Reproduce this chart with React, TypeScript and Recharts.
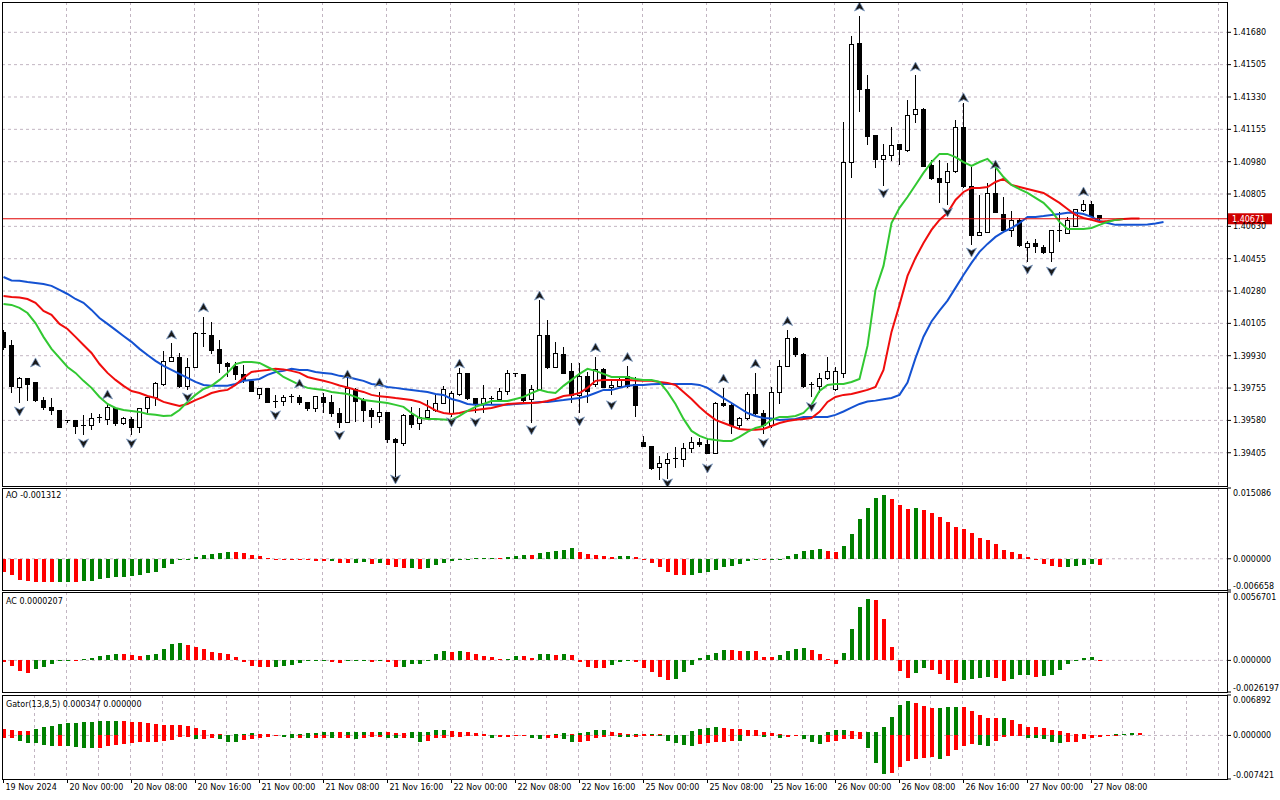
import React from 'react';
import { ComposedChart, Bar, Line, Scatter, XAxis, YAxis, CartesianGrid, ReferenceLine } from 'recharts';

// ---------- DATA ----------
const opens = [
  1.40053, 1.39983, 1.39759, 1.39804, 1.39783, 1.39690, 1.39652, 1.39631, 1.39577, 1.39577,
  1.39555, 1.39551, 1.39591, 1.39586, 1.39647, 1.39562, 1.39586, 1.39544, 1.39642, 1.39705,
  1.39775, 1.39901, 1.39922, 1.39766, 1.39867, 1.40044, 1.40042, 1.39965, 1.39889, 1.39874,
  1.39826, 1.39790, 1.39721, 1.39750, 1.39680, 1.39683, 1.39708, 1.39705, 1.39678, 1.39643,
  1.39705, 1.39678, 1.39618, 1.39568, 1.39749, 1.39690, 1.39636, 1.39600, 1.39624, 1.39478,
  1.39456, 1.39609, 1.39561, 1.39595, 1.39636, 1.39673, 1.39618, 1.39721, 1.39835, 1.39700,
  1.39669, 1.39700, 1.39694, 1.39739, 1.39832, 1.39830, 1.39694, 1.39749, 1.40037, 1.39867,
  1.39935, 1.39843, 1.39717, 1.39817, 1.39772, 1.39857, 1.39759, 1.39766, 1.39815, 1.39772,
  1.39462, 1.39441, 1.39324, 1.39348, 1.39369, 1.39369, 1.39429, 1.39459, 1.39451, 1.39402,
  1.39672, 1.39663, 1.39550, 1.39591, 1.39721, 1.39618, 1.39550, 1.39730, 1.39871, 1.40024,
  1.39934, 1.39774, 1.39766, 1.39808, 1.39745, 1.39834, 1.40977, 1.41617, 1.41368, 1.41124,
  1.40993, 1.41016, 1.41075, 1.41040, 1.41233, 1.41265, 1.40957, 1.40890, 1.40866, 1.40926,
  1.41166, 1.40843, 1.40582, 1.40598, 1.40806, 1.40695, 1.40610, 1.40661, 1.40517, 1.40538,
  1.40517, 1.40488, 1.40605, 1.40593, 1.40628, 1.40715, 1.40750, 1.40688,
];
const highs = [
  1.40069, 1.40015, 1.39815, 1.39812, 1.39788, 1.39708, 1.39700, 1.39636, 1.39582, 1.39582,
  1.39609, 1.39618, 1.39614, 1.39673, 1.39652, 1.39597, 1.39600, 1.39645, 1.39708, 1.39790,
  1.39957, 1.39997, 1.39944, 1.39916, 1.40060, 1.40141, 1.40114, 1.40015, 1.39898, 1.39898,
  1.39880, 1.39794, 1.39752, 1.39753, 1.39717, 1.39717, 1.39721, 1.39717, 1.39680, 1.39708,
  1.39726, 1.39717, 1.39645, 1.39808, 1.39754, 1.39700, 1.39649, 1.39735, 1.39627, 1.39483,
  1.39612, 1.39654, 1.39649, 1.39690, 1.39717, 1.39766, 1.39737, 1.39862, 1.39837, 1.39702,
  1.39772, 1.39712, 1.39754, 1.39854, 1.39839, 1.39832, 1.39771, 1.40232, 1.40125, 1.40006,
  1.39979, 1.39889, 1.39889, 1.39844, 1.39925, 1.39862, 1.39799, 1.39808, 1.39873, 1.39817,
  1.39497, 1.39443, 1.39387, 1.39402, 1.39438, 1.39456, 1.39488, 1.39483, 1.39478, 1.39681,
  1.39754, 1.39672, 1.39600, 1.39735, 1.39835, 1.39636, 1.39762, 1.39907, 1.40069, 1.40033,
  1.39943, 1.39790, 1.39839, 1.39922, 1.39867, 1.41196, 1.41660, 1.41768, 1.41449, 1.41124,
  1.41076, 1.41170, 1.41076, 1.41314, 1.41449, 1.41271, 1.40989, 1.40989, 1.40971, 1.41205,
  1.41296, 1.40953, 1.40800, 1.40864, 1.40945, 1.40791, 1.40715, 1.40674, 1.40552, 1.40560,
  1.40529, 1.40610, 1.40710, 1.40683, 1.40724, 1.40773, 1.40767, 1.40691,
];
const lows = [
  1.39961, 1.39728, 1.39673, 1.39687, 1.39680, 1.39636, 1.39609, 1.39539, 1.39564, 1.39506,
  1.39501, 1.39528, 1.39564, 1.39553, 1.39550, 1.39555, 1.39501, 1.39510, 1.39618, 1.39658,
  1.39766, 1.39898, 1.39754, 1.39745, 1.39862, 1.39979, 1.39939, 1.39835, 1.39817, 1.39799,
  1.39781, 1.39737, 1.39694, 1.39674, 1.39645, 1.39658, 1.39673, 1.39663, 1.39631, 1.39627,
  1.39622, 1.39600, 1.39537, 1.39564, 1.39573, 1.39573, 1.39537, 1.39568, 1.39459, 1.39275,
  1.39443, 1.39537, 1.39528, 1.39582, 1.39627, 1.39669, 1.39597, 1.39713, 1.39690, 1.39622,
  1.39622, 1.39663, 1.39687, 1.39717, 1.39817, 1.39681, 1.39564, 1.39745, 1.39856, 1.39862,
  1.39832, 1.39673, 1.39618, 1.39673, 1.39763, 1.39754, 1.39717, 1.39754, 1.39754, 1.39597,
  1.39436, 1.39312, 1.39257, 1.39261, 1.39321, 1.39329, 1.39402, 1.39438, 1.39398, 1.39398,
  1.39654, 1.39505, 1.39528, 1.39582, 1.39609, 1.39506, 1.39537, 1.39667, 1.39867, 1.39922,
  1.39754, 1.39708, 1.39730, 1.39799, 1.39741, 1.39809, 1.40890, 1.41250, 1.41070, 1.40944,
  1.40846, 1.40984, 1.40964, 1.41030, 1.41191, 1.40951, 1.40881, 1.40758, 1.40745, 1.40920,
  1.40837, 1.40529, 1.40578, 1.40593, 1.40701, 1.40607, 1.40575, 1.40520, 1.40436, 1.40488,
  1.40481, 1.40436, 1.40548, 1.40587, 1.40625, 1.40710, 1.40683, 1.40667,
];
const closes = [
  1.39977, 1.39761, 1.39806, 1.39773, 1.39687, 1.39649, 1.39632, 1.39541, 1.39571, 1.39546,
  1.39550, 1.39591, 1.39594, 1.39649, 1.39561, 1.39588, 1.39543, 1.39642, 1.39705, 1.39781,
  1.39900, 1.39922, 1.39766, 1.39867, 1.40048, 1.40048, 1.39957, 1.39889, 1.39871, 1.39826,
  1.39799, 1.39739, 1.39750, 1.39676, 1.39678, 1.39705, 1.39709, 1.39676, 1.39642, 1.39707,
  1.39676, 1.39618, 1.39568, 1.39754, 1.39681, 1.39636, 1.39600, 1.39624, 1.39474, 1.39459,
  1.39609, 1.39559, 1.39597, 1.39636, 1.39673, 1.39745, 1.39726, 1.39835, 1.39696, 1.39669,
  1.39700, 1.39698, 1.39739, 1.39835, 1.39830, 1.39690, 1.39749, 1.40037, 1.39867, 1.39943,
  1.39835, 1.39717, 1.39817, 1.39735, 1.39857, 1.39759, 1.39770, 1.39799, 1.39766, 1.39663,
  1.39438, 1.39321, 1.39348, 1.39369, 1.39372, 1.39429, 1.39459, 1.39447, 1.39402, 1.39672,
  1.39663, 1.39550, 1.39591, 1.39721, 1.39615, 1.39550, 1.39732, 1.39871, 1.40024, 1.39934,
  1.39763, 1.39772, 1.39808, 1.39843, 1.39843, 1.40977, 1.41615, 1.41368, 1.41116, 1.40993,
  1.41016, 1.41067, 1.41048, 1.41229, 1.41264, 1.40953, 1.40890, 1.40866, 1.40926, 1.41166,
  1.40846, 1.40578, 1.40598, 1.40806, 1.40706, 1.40610, 1.40664, 1.40525, 1.40538, 1.40520,
  1.40488, 1.40605, 1.40602, 1.40664, 1.40719, 1.40750, 1.40686, 1.40671,
];

// Alligator (shifted forward, so they run past the last bar)
const jaw = [
  1.40356, 1.40337, 1.40335, 1.40329, 1.40324, 1.40318, 1.40308, 1.40286, 1.40264, 1.40237,
  1.40216, 1.40178, 1.40134, 1.40102, 1.40070, 1.40037, 1.40005, 1.39967, 1.39934, 1.39902,
  1.39875, 1.39853, 1.39832, 1.39810, 1.39788, 1.39772, 1.39767, 1.39767, 1.39767, 1.39777,
  1.39794, 1.39799, 1.39804, 1.39826, 1.39842, 1.39848, 1.39859, 1.39853, 1.39853, 1.39842,
  1.39837, 1.39832, 1.39821, 1.39815, 1.39804, 1.39794, 1.39777, 1.39772, 1.39761, 1.39756,
  1.39750, 1.39745, 1.39739, 1.39734, 1.39723, 1.39718, 1.39696, 1.39685, 1.39669, 1.39664,
  1.39664, 1.39664, 1.39664, 1.39664, 1.39669, 1.39672, 1.39674, 1.39680, 1.39680, 1.39685,
  1.39690, 1.39696, 1.39701, 1.39712, 1.39728, 1.39745, 1.39745, 1.39756, 1.39767, 1.39772,
  1.39772, 1.39775, 1.39777, 1.39777, 1.39777, 1.39777, 1.39777, 1.39772, 1.39756, 1.39728,
  1.39701, 1.39674, 1.39647, 1.39620, 1.39604, 1.39593, 1.39590, 1.39582, 1.39585, 1.39588,
  1.39599, 1.39599, 1.39599, 1.39599, 1.39610, 1.39628, 1.39649, 1.39669, 1.39682, 1.39687,
  1.39695, 1.39701, 1.39718, 1.39785, 1.39917, 1.40033, 1.40115, 1.40174, 1.40228, 1.40297,
  1.40367, 1.40432, 1.40492, 1.40535, 1.40573, 1.40600, 1.40621, 1.40648, 1.40681, 1.40681,
  1.40686, 1.40692, 1.40697, 1.40703, 1.40703, 1.40697, 1.40681, 1.40659, 1.40648, 1.40638,
  1.40638, 1.40638, 1.40638, 1.40640, 1.40646, 1.40654,
];
const teeth = [
  1.40253, 1.40248, 1.40245, 1.40237, 1.40216, 1.40172, 1.40151, 1.40102, 1.40075, 1.40032,
  1.39988, 1.39945, 1.39885, 1.39837, 1.39799, 1.39767, 1.39739, 1.39728, 1.39712, 1.39701,
  1.39680, 1.39669, 1.39658, 1.39669, 1.39690, 1.39707, 1.39728, 1.39739, 1.39745, 1.39772,
  1.39810, 1.39842, 1.39848, 1.39853, 1.39859, 1.39856, 1.39848, 1.39837, 1.39815, 1.39804,
  1.39794, 1.39783, 1.39769, 1.39758, 1.39745, 1.39734, 1.39718, 1.39710, 1.39707, 1.39701,
  1.39696, 1.39690, 1.39680, 1.39658, 1.39634, 1.39620, 1.39615, 1.39620, 1.39631, 1.39636,
  1.39642, 1.39647, 1.39658, 1.39669, 1.39672, 1.39674, 1.39674, 1.39677, 1.39685, 1.39696,
  1.39712, 1.39718, 1.39728, 1.39756, 1.39794, 1.39799, 1.39799, 1.39799, 1.39799, 1.39796,
  1.39794, 1.39794, 1.39788, 1.39783, 1.39772, 1.39734, 1.39696, 1.39653, 1.39615, 1.39583,
  1.39566, 1.39550, 1.39534, 1.39529, 1.39529, 1.39534, 1.39550, 1.39566, 1.39577, 1.39583,
  1.39588, 1.39593, 1.39626, 1.39680, 1.39707, 1.39718, 1.39723, 1.39734, 1.39745, 1.39761,
  1.39853, 1.40059, 1.40205, 1.40362, 1.40459, 1.40540, 1.40611, 1.40665, 1.40703, 1.40773,
  1.40816, 1.40838, 1.40838, 1.40843, 1.40870, 1.40887, 1.40854, 1.40843, 1.40832, 1.40821,
  1.40811, 1.40784, 1.40757, 1.40724, 1.40692, 1.40675, 1.40665, 1.40654, 1.40659, 1.40665,
  1.40670, 1.40673, 1.40673,
];
const lips = [
  1.40210, 1.40205, 1.40189, 1.40161, 1.40107, 1.40032, 1.39967, 1.39918, 1.39869, 1.39837,
  1.39794, 1.39756, 1.39707, 1.39669, 1.39647, 1.39636, 1.39631, 1.39626, 1.39615, 1.39610,
  1.39604, 1.39607, 1.39636, 1.39680, 1.39718, 1.39750, 1.39767, 1.39799, 1.39837, 1.39885,
  1.39896, 1.39896, 1.39891, 1.39869, 1.39848, 1.39815, 1.39794, 1.39772, 1.39756, 1.39750,
  1.39745, 1.39734, 1.39728, 1.39723, 1.39707, 1.39690, 1.39685, 1.39680, 1.39674, 1.39664,
  1.39653, 1.39620, 1.39593, 1.39588, 1.39588, 1.39585, 1.39582, 1.39604, 1.39631, 1.39653,
  1.39669, 1.39685, 1.39685, 1.39685, 1.39696, 1.39707, 1.39728, 1.39745, 1.39734, 1.39728,
  1.39767, 1.39799, 1.39832, 1.39859, 1.39848, 1.39832, 1.39815, 1.39815, 1.39815, 1.39804,
  1.39799, 1.39799, 1.39788, 1.39734, 1.39669, 1.39588, 1.39523, 1.39496, 1.39480, 1.39474,
  1.39469, 1.39469, 1.39491, 1.39518, 1.39539, 1.39550, 1.39583, 1.39599, 1.39599, 1.39604,
  1.39620, 1.39664, 1.39739, 1.39772, 1.39777, 1.39777, 1.39788, 1.39804, 1.39983, 1.40286,
  1.40416, 1.40648, 1.40730, 1.40789, 1.40854, 1.40919, 1.40978, 1.41022, 1.41022, 1.41005,
  1.40978, 1.40957, 1.40978, 1.40995, 1.40951, 1.40897, 1.40854, 1.40832, 1.40811, 1.40784,
  1.40757, 1.40713, 1.40654, 1.40616, 1.40616, 1.40616, 1.40621, 1.40638, 1.40654, 1.40665,
  1.40670,
];

// Fractals (arrow positions)
const fractalUpIdx = [4, 13, 21, 25, 37, 43, 47, 57, 67, 74, 78, 90, 94, 98, 107, 114, 120, 124, 135];
const fractalUpVal = [
  1.39891, 1.39718, 1.40042, 1.40189, 1.39777, 1.39826, 1.39783, 1.39885, 1.40253, 1.39972,
  1.39921, 1.39804, 1.39885, 1.40115, 1.41817, 1.41492, 1.41325, 1.40962, 1.40816,
];
const fractalDownIdx = [2, 10, 16, 23, 34, 42, 49, 56, 59, 66, 72, 76, 83, 88, 95, 101, 110, 118, 121, 128, 131];
const fractalDownVal = [
  1.39631, 1.39458, 1.39458, 1.39707, 1.39610, 1.39501, 1.39263, 1.39572, 1.39572, 1.39529,
  1.39577, 1.39664, 1.39242, 1.39323, 1.39460, 1.39655, 1.40811, 1.40708, 1.40491, 1.40399,
  1.40388,
];

// Awesome Oscillator
const aoValues = [
  -0.00285, -0.00343, -0.00453, -0.00482, -0.00489, -0.00500, -0.00504, -0.00502, -0.00500, -0.00505,
  -0.00482, -0.00480, -0.00438, -0.00409, -0.00394, -0.00380, -0.00358, -0.00350, -0.00307, -0.00285,
  -0.00197, -0.00102, -0.00029, -0.00007, 0.00044, 0.00088, 0.00109, 0.00131, 0.00153, 0.00150,
  0.00131, 0.00088, 0.00066, 0.00022, 0.00005, 0.00003, -0.00022, -0.00029, -0.00036, -0.00044,
  -0.00051, -0.00048, -0.00080, -0.00085, -0.00080, -0.00078, -0.00102, -0.00100, -0.00124, -0.00175,
  -0.00197, -0.00195, -0.00212, -0.00190, -0.00131, -0.00080, -0.00058, -0.00007, 0.00005, 0.00022,
  0.00024, 0.00026, 0.00022, 0.00044, 0.00066, 0.00088, 0.00085, 0.00131, 0.00153, 0.00175,
  0.00197, 0.00219, 0.00153, 0.00109, 0.00088, 0.00066, 0.00044, 0.00066, 0.00068, 0.00044,
  -0.00007, -0.00080, -0.00168, -0.00285, -0.00343, -0.00345, -0.00340, -0.00299, -0.00285, -0.00234,
  -0.00168, -0.00146, -0.00102, -0.00058, -0.00010, -0.00030, -0.00025, 0.00005, 0.00066, 0.00109,
  0.00175, 0.00197, 0.00199, 0.00175, 0.00153, 0.00263, 0.00526, 0.00839, 0.01080, 0.01290,
  0.01360, 0.01270, 0.01140, 0.01070, 0.01075, 0.01050, 0.00978, 0.00891, 0.00788, 0.00672,
  0.00628, 0.00540, 0.00453, 0.00409, 0.00321, 0.00197, 0.00153, 0.00109, 0.00044, -0.00022,
  -0.00102, -0.00146, -0.00175, -0.00170, -0.00146, -0.00124, -0.00120, -0.001312,
];
// Accelerator Oscillator
const acValues = [
  -0.00010, -0.00048, -0.00087, -0.00104, -0.00070, -0.00053, -0.00028, 0.00002, 0.00003, 0.00002,
  0.00014, 0.00020, 0.00039, 0.00045, 0.00053, 0.00052, 0.00045, 0.00037, 0.00045, 0.00053,
  0.00096, 0.00138, 0.00146, 0.00129, 0.00112, 0.00096, 0.00070, 0.00062, 0.00053, 0.00028,
  -0.00011, -0.00048, -0.00056, -0.00058, -0.00056, -0.00048, -0.00039, -0.00020, -0.00006, -0.00003,
  -0.00001, -0.00014, -0.00020, -0.00008, -0.00003, -0.00002, -0.00011, -0.00004, -0.00014, -0.00056,
  -0.00054, -0.00030, -0.00028, 0.00002, 0.00053, 0.00079, 0.00070, 0.00079, 0.00070, 0.00053,
  0.00037, 0.00028, 0.00011, 0.00012, 0.00037, 0.00035, 0.00020, 0.00053, 0.00054, 0.00045,
  0.00053, 0.00045, -0.00011, -0.00056, -0.00062, -0.00064, -0.00037, -0.00011, -0.00002, -0.00011,
  -0.00062, -0.00096, -0.00138, -0.00163, -0.00155, -0.00096, -0.00037, 0.00020, 0.00045, 0.00062,
  0.00087, 0.00086, 0.00079, 0.00080, 0.00078, 0.00028, 0.00027, 0.00045, 0.00079, 0.00096,
  0.00104, 0.00087, 0.00053, 0.00011, -0.00028, 0.00062, 0.00264, 0.00441, 0.00508, 0.00500,
  0.00340, 0.00112, -0.00087, -0.00146, -0.00104, -0.00065, -0.00081, -0.00115, -0.00163, -0.00188,
  -0.00163, -0.00155, -0.00146, -0.00138, -0.00146, -0.00171, -0.00155, -0.00121, -0.00118, -0.00138,
  -0.00129, -0.00121, -0.00079, -0.00028, -0.00003, 0.00020, 0.00028, 0.0000207,
];
// Gator oscillator (upper = |jaw-teeth|, lower = -|teeth-lips|)
const gatorUpper = [
  0.00112, 0.00100, 0.00082, 0.00080, 0.00106, 0.00147, 0.00159, 0.00194, 0.00212, 0.00214,
  0.00230, 0.00232, 0.00247, 0.00249, 0.00250, 0.00248, 0.00230, 0.00228, 0.00212, 0.00194,
  0.00177, 0.00175, 0.00173, 0.00159, 0.00124, 0.00088, 0.00029, 0.00018, 0.00016, 0.00022,
  0.00024, 0.00035, 0.00033, 0.00018, 0.00003, 0.00012, 0.00018, 0.00024, 0.00035, 0.00037,
  0.00053, 0.00055, 0.00053, 0.00055, 0.00056, 0.00057, 0.00055, 0.00056, 0.00054, 0.00041,
  0.00035, 0.00053, 0.00055, 0.00056, 0.00088, 0.00090, 0.00071, 0.00053, 0.00051, 0.00035,
  0.00018, 0.00010, 0.00008, 0.00006, 0.00003, 0.00002, 0.00004, 0.00006, 0.00008, 0.00018,
  0.00035, 0.00018, 0.00035, 0.00053, 0.00088, 0.00090, 0.00053, 0.00035, 0.00018, 0.00020,
  0.00020, 0.00022, 0.00020, 0.00010, 0.00005, 0.00004, 0.00071, 0.00106, 0.00124, 0.00141,
  0.00124, 0.00106, 0.00104, 0.00088, 0.00086, 0.00053, 0.00035, 0.00018, 0.00016, 0.00005,
  0.00004, 0.00003, 0.00002, 0.00053, 0.00088, 0.00090, 0.00071, 0.00053, 0.00055, 0.00057,
  0.00141, 0.00318, 0.00512, 0.00583, 0.00548, 0.00495, 0.00460, 0.00470, 0.00477, 0.00485,
  0.00477, 0.00424, 0.00353, 0.00300, 0.00295, 0.00297, 0.00265, 0.00194, 0.00141, 0.00139,
  0.00124, 0.00088, 0.00071, 0.00035, 0.00020, 0.00018, 0.00005, 0.00003, 0.00002, 0.00018,
  0.00019, 0.00036, 0.000347,
];
const gatorLower = [
  -0.00050, -0.00047, -0.00088, -0.00124, -0.00135, -0.00171, -0.00183, -0.00180, -0.00185, -0.00194,
  -0.00206, -0.00208, -0.00206, -0.00183, -0.00165, -0.00153, -0.00124, -0.00118, -0.00106, -0.00104,
  -0.00094, -0.00077, -0.00029, -0.00027, -0.00065, -0.00062, -0.00047, -0.00065, -0.00118, -0.00120,
  -0.00082, -0.00059, -0.00047, -0.00029, -0.00003, -0.00018, -0.00041, -0.00040, -0.00041, -0.00039,
  -0.00038, -0.00047, -0.00045, -0.00043, -0.00059, -0.00047, -0.00030, -0.00028, -0.00047, -0.00048,
  -0.00047, -0.00048, -0.00106, -0.00088, -0.00047, -0.00045, -0.00029, -0.00018, -0.00016, -0.00014,
  -0.00012, -0.00047, -0.00029, -0.00027, -0.00003, -0.00002, -0.00047, -0.00065, -0.00047, -0.00045,
  -0.00065, -0.00118, -0.00106, -0.00088, -0.00047, -0.00018, -0.00016, -0.00029, -0.00031, -0.00018,
  -0.00005, -0.00004, -0.00010, -0.00088, -0.00135, -0.00171, -0.00173, -0.00153, -0.00135, -0.00118,
  -0.00106, -0.00088, -0.00090, -0.00005, -0.00004, -0.00018, -0.00016, -0.00047, -0.00029, -0.00005,
  -0.00065, -0.00118, -0.00153, -0.00118, -0.00088, -0.00065, -0.00063, -0.00062, -0.00206, -0.00477,
  -0.00654, -0.00636, -0.00530, -0.00442, -0.00406, -0.00389, -0.00371, -0.00406, -0.00353, -0.00247,
  -0.00177, -0.00141, -0.00159, -0.00177, -0.00088, -0.00018, -0.00006, -0.00005, -0.00035, -0.00047,
  -0.00065, -0.00106, -0.00124, -0.00106, -0.00104, -0.00065, -0.00041, -0.00018, -0.00005, -0.00003,
];

const timeLabels = [
  '19 Nov 2024', '20 Nov 00:00', '20 Nov 08:00', '20 Nov 16:00', '21 Nov 00:00', '21 Nov 08:00',
  '21 Nov 16:00', '22 Nov 00:00', '22 Nov 08:00', '22 Nov 16:00', '25 Nov 00:00', '25 Nov 08:00',
  '25 Nov 16:00', '26 Nov 00:00', '26 Nov 08:00', '26 Nov 16:00', '27 Nov 00:00', '27 Nov 08:00',
];
const timeLabelIdx = [0, 8, 16, 24, 32, 40, 48, 56, 64, 72, 80, 88, 96, 104, 112, 120, 128, 136];

const priceTicks = [
  1.39405, 1.39580, 1.39755, 1.39930, 1.40105, 1.40280, 1.40455,
  1.40630, 1.40805, 1.40980, 1.41155, 1.41330, 1.41505, 1.41680,
];
const priceDomain: [number, number] = [1.39225, 1.41844];
const lastPrice = 1.40671;

const aoTicks = [0.015086, 0, -0.006658];
const aoTickLabels = ['0.015086', '0.000000', '-0.006658'];
const acTicks = [0.0056701, 0, -0.0026197];
const acTickLabels = ['0.0056701', '0.000000', '-0.0026197'];
const gatorTicks = [0.006892, 0, -0.007421];
const gatorTickLabels = ['0.006892', '0.000000', '-0.007421'];

// ---------- LAYOUT / STYLE ----------
const FONT = '"DejaVu Sans", Tahoma, sans-serif';
const SLOTS = 153;
const X_DOMAIN: [number, number] = [-0.1875, 152.9375];
const AXIS_W = 53;
const GREEN = '#008000';
const RED = '#ff0000';
const GRID = '#c2b5c2';
const gridX = Array.from({ length: 38 }, (_, k) => 4 * (k + 1) - 0.125);

const rows = Array.from({ length: SLOTS }, (_, i) => ({
  i,
  open: i < opens.length ? opens[i] : null,
  high: i < highs.length ? highs[i] : null,
  low: i < lows.length ? lows[i] : null,
  close: i < closes.length ? closes[i] : null,
  ohlc: i < opens.length ? [lows[i], highs[i]] : null,
  jaw: i < jaw.length ? jaw[i] : null,
  teeth: i < teeth.length ? teeth[i] : null,
  lips: i < lips.length ? lips[i] : null,
  ao: i < aoValues.length ? aoValues[i] : null,
  ac: i < acValues.length ? acValues[i] : null,
  gu: i < gatorUpper.length ? gatorUpper[i] : null,
  gd: i < gatorLower.length ? gatorLower[i] : null,
}));

const upPts = fractalUpIdx.map((idx, k) => ({ i: idx, v: fractalUpVal[k] }));
const downPts = fractalDownIdx.map((idx, k) => ({ i: idx, v: fractalDownVal[k] }));

// ---------- SHAPES ----------
const Candle = (props: any) => {
  const { x, y, width, height, payload } = props;
  if (!payload || payload.open == null || x == null || y == null) return null;
  const { open, close, high, low } = payload;
  const yTop = height >= 0 ? y : y + height;
  const h = Math.abs(height);
  const span = high - low;
  const toY = (v: number) => (span > 0 ? yTop + ((high - v) / span) * h : yTop);
  const cx = Math.floor(x + width / 2) + 0.5;
  const bTop = toY(Math.max(open, close));
  const bBot = toY(Math.min(open, close));
  const bull = close >= open;
  return (
    <g shapeRendering="crispEdges">
      <line x1={cx} x2={cx} y1={yTop} y2={yTop + h} stroke="#000" strokeWidth={1} />
      {bBot - bTop < 1.2 ? (
        <line x1={cx - 2.5} x2={cx + 2.5} y1={bTop} y2={bTop} stroke="#000" strokeWidth={1} />
      ) : (
        <rect x={cx - 2} y={bTop} width={4} height={bBot - bTop} fill={bull ? '#fff' : '#000'} stroke="#000" strokeWidth={1} />
      )}
    </g>
  );
};

const UpArrow = (props: any) => {
  const { cx, cy } = props;
  if (cx == null || cy == null) return null;
  return (
    <path
      d={`M${cx},${cy - 5} L${cx + 5},${cy + 4} L${cx},${cy + 1.5} L${cx - 5},${cy + 4} Z`}
      fill="#1a1a1a" stroke="#7d9cc4" strokeWidth={0.8}
    />
  );
};
const DownArrow = (props: any) => {
  const { cx, cy } = props;
  if (cx == null || cy == null) return null;
  return (
    <path
      d={`M${cx},${cy + 5} L${cx + 5},${cy - 4} L${cx},${cy - 1.5} L${cx - 5},${cy - 4} Z`}
      fill="#1a1a1a" stroke="#7d9cc4" strokeWidth={0.8}
    />
  );
};

const makeHist = (values: number[], useAbs: boolean) => (props: any) => {
  const { x, y, width, height, payload } = props;
  if (x == null || y == null || !payload) return null;
  const i = payload.i;
  const v = values[i];
  const p = values[i - 1];
  if (v == null) return null;
  const rising = i > 0 && p != null && (useAbs ? Math.abs(v) > Math.abs(p) : v > p);
  const top = height >= 0 ? y : y + height;
  const h = Math.max(Math.abs(height), 1);
  return <rect x={Math.round(x)} y={top} width={width} height={h} fill={rising ? GREEN : RED} shapeRendering="crispEdges" />;
};
const aoShape = makeHist(aoValues, false);
const acShape = makeHist(acValues, false);
const guShape = makeHist(gatorUpper, false);
const gdShape = makeHist(gatorLower, true);

const PriceTag = (props: any) => {
  const vb = props.viewBox || {};
  const x = (vb.x ?? 0) + (vb.width ?? 0);
  const y = vb.y ?? 0;
  return (
    <g>
      <rect x={x + 1} y={y - 5.5} width={44} height={11} fill="#d00000" />
      <text x={x + 5} y={y + 3} fill="#fff" fontSize={8} fontFamily={FONT}>{lastPrice.toFixed(5)}</text>
    </g>
  );
};

const makePaneTick = (labels: string[], minY: number, maxY: number) => (props: any) => {
  const { x, y, index } = props;
  const yy = Math.min(Math.max(y, minY), maxY);
  return (
    <text x={x} y={yy} dy="0.35em" textAnchor="start" fontSize={8} fontFamily={FONT} fill="#000">
      {labels[index]}
    </text>
  );
};

const TimeTick = (props: any) => {
  const { x, y, payload } = props;
  const k = timeLabelIdx.indexOf(payload.value);
  return (
    <text x={x + 2} y={y} dy="0.72em" textAnchor="start" fontSize={8} fontFamily={FONT} fill="#000">
      {k >= 0 ? timeLabels[k] : ''}
    </text>
  );
};

const frame = (top: number, height: number): React.CSSProperties => ({
  position: 'absolute', left: 2, top, width: 1226, height, border: '1px solid #000',
  boxSizing: 'border-box', pointerEvents: 'none',
});
const paneLabel = (top: number): React.CSSProperties => ({
  position: 'absolute', left: 6, top, fontSize: 8, lineHeight: '10px', fontFamily: FONT, color: '#000',
  whiteSpace: 'nowrap',
});
const abs = (top: number): React.CSSProperties => ({ position: 'absolute', left: 0, top });

const yTickStyle = { fontSize: 8, fontFamily: FONT, fill: '#000' };

export default function App() {
  return (
    <div style={{ position: 'relative', width: 1280, height: 800, background: '#fff', overflow: 'hidden' }}>
      <style>{'body{margin:0;background:#fff}'}</style>

      {/* Main price pane */}
      <div style={abs(0)}>
        <ComposedChart width={1280} height={488} data={rows} margin={{ top: 2, right: 0, bottom: 2, left: 2 }}>
          <CartesianGrid horizontalValues={priceTicks} verticalValues={gridX} stroke={GRID} strokeDasharray="3 3" />
          <XAxis dataKey="i" type="number" domain={X_DOMAIN} allowDataOverflow hide />
          <YAxis
            orientation="right" width={AXIS_W} domain={priceDomain} allowDataOverflow ticks={priceTicks} interval={0}
            tickFormatter={(v: number) => v.toFixed(5)} axisLine={false} tickLine={{ stroke: '#000' }}
            tickSize={4} tickMargin={2} tick={yTickStyle}
          />
          <Bar dataKey="ohlc" barSize={5} shape={Candle} isAnimationActive={false} />
          <Line dataKey="jaw" stroke="#1452d2" strokeWidth={2} dot={false} activeDot={false} isAnimationActive={false} />
          <Line dataKey="teeth" stroke="#f00d0d" strokeWidth={2} dot={false} activeDot={false} isAnimationActive={false} />
          <Line dataKey="lips" stroke="#32c832" strokeWidth={2} dot={false} activeDot={false} isAnimationActive={false} />
          <ReferenceLine y={lastPrice} stroke="#e00000" strokeWidth={1} label={<PriceTag />} />
          <Scatter data={upPts} dataKey="v" shape={UpArrow} isAnimationActive={false} />
          <Scatter data={downPts} dataKey="v" shape={DownArrow} isAnimationActive={false} />
        </ComposedChart>
      </div>

      {/* AO pane */}
      <div style={abs(486)}>
        <ComposedChart width={1280} height={106} data={rows} margin={{ top: 2, right: 0, bottom: 2, left: 2 }}>
          <CartesianGrid horizontalValues={[0]} verticalValues={gridX} stroke={GRID} strokeDasharray="3 3" />
          <XAxis dataKey="i" type="number" domain={X_DOMAIN} allowDataOverflow hide />
          <YAxis
            orientation="right" width={AXIS_W} domain={[-0.006658, 0.015086]} allowDataOverflow ticks={aoTicks}
            interval={0} axisLine={false} tickLine={{ stroke: '#000' }} tickSize={4} tickMargin={2}
            tick={makePaneTick(aoTickLabels, 7, 100)}
          />
          <Bar dataKey="ao" barSize={4} shape={aoShape} isAnimationActive={false} />
        </ComposedChart>
      </div>

      {/* AC pane */}
      <div style={abs(590)}>
        <ComposedChart width={1280} height={104} data={rows} margin={{ top: 2, right: 0, bottom: 2, left: 2 }}>
          <CartesianGrid horizontalValues={[0]} verticalValues={gridX} stroke={GRID} strokeDasharray="3 3" />
          <XAxis dataKey="i" type="number" domain={X_DOMAIN} allowDataOverflow hide />
          <YAxis
            orientation="right" width={AXIS_W} domain={[-0.0026197, 0.0056701]} allowDataOverflow ticks={acTicks}
            interval={0} axisLine={false} tickLine={{ stroke: '#000' }} tickSize={4} tickMargin={2}
            tick={makePaneTick(acTickLabels, 7, 98)}
          />
          <Bar dataKey="ac" barSize={4} shape={acShape} isAnimationActive={false} />
        </ComposedChart>
      </div>

      {/* Gator pane + time axis */}
      <div style={abs(693)}>
        <ComposedChart width={1280} height={107} data={rows} stackOffset="sign" margin={{ top: 2, right: 0, bottom: 0, left: 2 }}>
          <CartesianGrid horizontalValues={[0]} verticalValues={gridX} stroke={GRID} strokeDasharray="3 3" />
          <XAxis
            dataKey="i" type="number" domain={X_DOMAIN} allowDataOverflow ticks={timeLabelIdx} interval={0}
            axisLine={false} tickLine={{ stroke: '#000' }} tickSize={4} tickMargin={1} height={21} tick={TimeTick}
          />
          <YAxis
            orientation="right" width={AXIS_W} domain={[-0.007421, 0.006892]} allowDataOverflow ticks={gatorTicks}
            interval={0} axisLine={false} tickLine={{ stroke: '#000' }} tickSize={4} tickMargin={2}
            tick={makePaneTick(gatorTickLabels, 7, 82)}
          />
          <Bar dataKey="gu" stackId="g" barSize={4} shape={guShape} isAnimationActive={false} />
          <Bar dataKey="gd" stackId="g" barSize={4} shape={gdShape} isAnimationActive={false} />
        </ComposedChart>
      </div>

      {/* pane frames */}
      <div style={frame(2, 485)} />
      <div style={frame(488, 103)} />
      <div style={frame(592, 101)} />
      <div style={frame(695, 85)} />

      {/* pane titles */}
      <div style={paneLabel(491)}>AO -0.001312</div>
      <div style={paneLabel(597)}>AC 0.0000207</div>
      <div style={paneLabel(700)}>Gator(13,8,5) 0.000347 0.000000</div>
    </div>
  );
}
